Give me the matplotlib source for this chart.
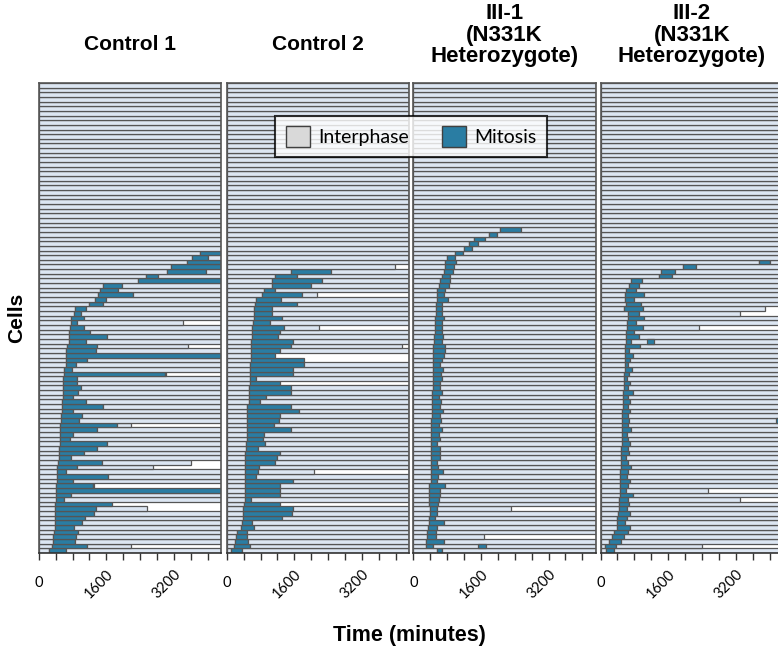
import matplotlib
matplotlib.use('Agg')
import matplotlib.pyplot as plt
from matplotlib.patches import Patch

F = 4320          # 72 h of imaging, in minutes
N_ROWS = 101

# each panel: rows from the bottom up; mitosis on / off and end of tracking (minutes)
c1_on = [240, 320, 340, 350, 360, 380, 380, 390, 390, 390, 390, 400, 400, 420, 420, 430, 430,
         430, 440, 460, 480, 480, 480, 500, 500, 500, 500, 500, 520, 520, 540, 540, 560, 570,
         580, 580, 580, 580, 600, 600, 640, 640, 650, 650, 680, 710, 710, 720, 730, 760, 760,
         840, 860, 1180, 1330, 1400, 1440, 1510, 2350, 2550, 3030, 3140, 3520, 3630, 3810]
c1_off = [640, 1150, 860, 890, 940, 840, 1030, 1090, 1310, 1360, 1730, 600, 770, F, 1290, 820,
          1650, 640, 900, 1490, 770, 1070, 1390, 1620, 730, 810, 1370, 1860, 950, 1030, 820,
          1510, 1130, 810,
          930, 1010, 900, 900, 2990, 780, 890, 1150, F, 1360, 1390, 1130, 1610, 1210, 1060, 900,
          1070, 990, 1130, 1530, 1600, 2240, 1880, 1980, F, 2830, 3950, F, F, 4010, F]
c1_end = [F, 2180, F, F, F, F, F, F, F, 2570, 1730, F, F, F, 1320, F, F, F, 2710, 3610, F, F, F,
          F, F, F, F, 2180, F, F, F, F, F, F,
          F, F, F, F, 3000, F, F, F, F, F, 3540, F, F, F, F, 3420, F, F, F, F, F, F, F, F, F, F,
          F, F, F, F, F]

c2_on = [90, 170, 190, 230, 240, 350, 360, 390, 390, 390, 400, 430, 430, 430, 430, 430, 440,
         440, 440, 440, 440, 440, 460, 460, 470, 470, 470, 480, 480, 480, 480, 480, 520, 520,
         520, 520, 540, 540, 540, 560, 560, 580, 580, 580, 580, 580, 600, 600, 600, 620, 640,
         650, 650, 660, 700, 840, 880, 1060, 1070, 1150, 1510, None]
c2_off = [360, 560, 500, 480, 470, 640, 600, 1320, 1550, 1570, 1270, 580, 1250, 1250, 1270,
          1570, 690, 740, 770, 1150, 1180, 1270, 740, 900, 860, 880, 1510, 1110, 1230, 1270,
          1700, 1530, 780, 940,
          1510, 1530, 1250, 700, 1570, 1580, 1820, 1840, 1150, 1270, 1520, 1570, 1210, 1270,
          1360, 1030, 1310, 1060, 1060, 1660, 1290, 1780, 1150, 1990, 2260, 1660, 2470, None]
c2_end = [F, F, F, F, F, F, F, F, F, F, 1270, F, F, F, F, F, F, 2060, F, F, F, F, F, F, F, F, F,
          F, F, F, F, F, F, F,
          F, F, 1250, F, F, F, F, 1840, 1150, F, 4150, F, F, F, 2190, F, F, F, F, F, F, 2140, F,
          F, F, F, F, 3970]

c3_on = [550, 290, 300, 330, 330, 350, 370, 380, 390, 390, 380, 380, 380, 380, 380, 410, 410,
         410, 410, 420, 420, 420, 420, 420,
         420, 420, 425, 430, 430, 435, 440, 440, 445, 450, 450, 455, 460, 460, 465, 470, 470,
         470, 470,
         470, 470, 500, 500, 510, 510, 510, 510, 530, 530, 530, 550, 570, 570, 610, 630, 680,
         730, 750, 760, 800, 980, 1190, 1320, 1440, 1780, 2060, None]
c3_off = [680, 460, 730, 530, 530, 550, 730, 510, 570, 570, 590, 610, 630, 640, 750, 570, 590,
          710, 590, 570, 630, 630, 630, 570,
          640, 610, 680, 600, 650, 620, 700, 630, 660, 610, 690, 640, 620, 670, 650, 700, 640,
          680, 720,
          750, 750, 680, 710, 680, 690, 690, 720, 690, 690, 690, 830, 730, 760, 850, 860, 860,
          940, 960, 1000, 980, 1180, 1390, 1520, 1690, 1990, 2550, None]
c3_end = [F, F, F, 1670, F, F, F, F, F, 2320] + [F] * 60 + [4300]
c3_second = [(1, 1520, 1710)]

c4_on = [130, 110, 200, 280, 330, 380, 400, 400, 420, 430, 440, 440, 450, 450, 460, 460, 470,
         470, 480, 480, 480, 490, 490, 500, 500, 500, 510, 510, 520, 520, 520, 530, 530, 540,
         540, 550, 550, 560, 560, 570, 570, 580, 580, 590, 590, 600, 600, 610, 620, 620, 640,
         650, 560, 600, 570, 570, 610, 680, 730, 1390, 1440, 1940, 3740]
c4_off = [320, 370, 480, 560, 640, 700, 580, 620, 700, 620, 680, 640, 760, 600, 650, 700, 620,
          660, 720, 640, 600, 680, 640, 700, 660, 620, 720, 650, 680, 640, 700, 660, 700, 640,
          760, 660, 700, 620, 680, 740, 660, 700, 760, 680, 940, 720, 900, 800, 1000, 850, 1040,
          900, 1000, 960, 800, 1040, 850, 920, 970, 1680, 1770, 2270, 4010]
c4_end = ([F, 2400] + [F] * 9 + [3300, F, 2540] + [F] * 34 + [2340, F, F, 3300, 3900]
          + [F] * 10)
c4_second = [(28, 4150, F), (45, 1090, 1270)]

titles = ['Control 1', 'Control 2', 'III-1\n(N331K\nHeterozygote)', 'III-2\n(N331K\nHeterozygote)']
tick_vals = list(range(0, 4001, 400))
tick_text = {0: '0', 1600: '1600', 3200: '3200'}

LIGHT = '#dce6f2'
BLUE = '#2a7da3'
EDGE = '#555555'


def draw_panel(ax, on, off, end, second):
    lw = 0.9
    for i in range(N_ROWS):
        if i >= len(on):
            ax.barh(i, F, left=0, height=1, color=LIGHT, edgecolor=EDGE, linewidth=lw)
            continue
        if on[i] is None:
            ax.barh(i, end[i], left=0, height=1, color=LIGHT, edgecolor=EDGE, linewidth=lw)
            continue
        ax.barh(i, on[i], left=0, height=1, color=LIGHT, edgecolor=EDGE, linewidth=lw)
        ax.barh(i, off[i] - on[i], left=on[i], height=1, color=BLUE, edgecolor=EDGE, linewidth=lw)
        if end[i] > off[i]:
            ax.barh(i, end[i] - off[i], left=off[i], height=1, color=LIGHT, edgecolor=EDGE,
                    linewidth=lw)
    for row, a, b in second:
        ax.barh(row, b - a, left=a, height=1, color=BLUE, edgecolor=EDGE, linewidth=lw)

    ax.set_xlim(0, F)
    ax.set_ylim(-0.5, N_ROWS - 0.5)
    ax.set_yticks([])
    ax.set_xticks(tick_vals)
    ax.set_xticklabels([])
    ax.tick_params(axis='x', direction='out', length=5, width=1, color='#333333')
    for s in ['left', 'right', 'top']:
        ax.spines[s].set_color(EDGE)
        ax.spines[s].set_linewidth(1.2)
    ax.spines['bottom'].set_color('#333333')
    ax.spines['bottom'].set_linewidth(1.2)
    trans = ax.get_xaxis_transform()
    for t, lab in tick_text.items():
        if t == 0:
            ax.text(t, -0.064, lab, transform=trans, ha='center', va='center',
                    fontsize=10.5, family='Lato', clip_on=False)
        else:
            ax.text(t - 170, -0.066, lab, transform=trans, ha='center', va='center',
                    rotation=45, fontsize=10.5, family='Lato', clip_on=False)


def main():
    W, H = 778, 652
    fig = plt.figure(figsize=(W / 100, H / 100), dpi=100)
    lefts = [38.7, 226.7, 413.3, 600.5]
    pw = 182.6
    top, bottom = 83, 553
    data = [(c1_on, c1_off, c1_end, []), (c2_on, c2_off, c2_end, []),
            (c3_on, c3_off, c3_end, c3_second), (c4_on, c4_off, c4_end, c4_second)]
    for k, (on, off, end, sec) in enumerate(data):
        ax = fig.add_axes([lefts[k] / W, 1 - bottom / H, pw / W, (bottom - top) / H])
        draw_panel(ax, on, off, end, sec)
        cx = (lefts[k] + pw / 2) / W
        if k < 2:
            fig.text(cx, 1 - 45 / H, titles[k], ha='center', va='center', fontsize=15,
                     fontweight='bold', family='Liberation Sans')
        else:
            fig.text(cx, 1 - 35 / H, titles[k], ha='center', va='center', fontsize=16,
                     fontweight='bold', family='Liberation Sans', linespacing=1.03)

    fig.text(17 / W, 1 - 318 / H, 'Cells', rotation=90, ha='center', va='center',
             fontsize=15, fontweight='bold', family='Liberation Sans')
    fig.text(409 / W, 1 - 635 / H, 'Time (minutes)', ha='center', va='center',
             fontsize=15.5, fontweight='bold', family='Liberation Sans')

    handles = [Patch(facecolor='#d9d9d9', edgecolor='#404040', linewidth=1, label='Interphase'),
               Patch(facecolor=BLUE, edgecolor='#404040', linewidth=1, label='Mitosis')]
    leg = fig.legend(handles=handles, loc='center', bbox_to_anchor=(411 / W, 1 - 136.5 / H),
                     ncol=2, frameon=True, fancybox=False, handlelength=1.25,
                     handleheight=1.25, columnspacing=1.7, handletextpad=0.4,
                     borderpad=0.55, prop={'family': 'Lato', 'size': 14})
    leg.get_frame().set_edgecolor('black')
    leg.get_frame().set_linewidth(1.5)

    fig.savefig('out.png', dpi=100)


if __name__ == '__main__':
    main()
